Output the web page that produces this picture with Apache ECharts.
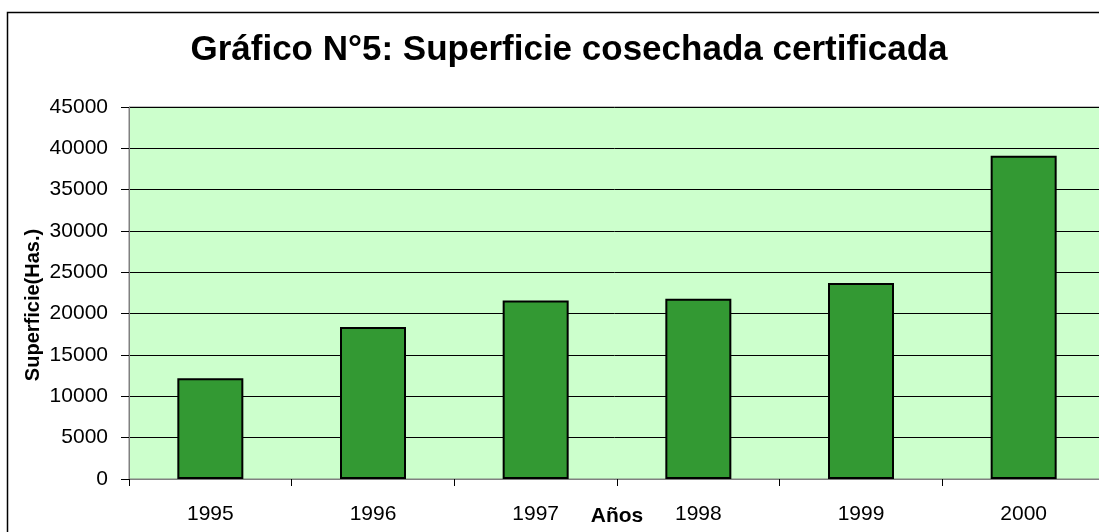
<!DOCTYPE html>
<html>
<head>
<meta charset="utf-8">
<script src="https://cdn.jsdelivr.net/npm/echarts@6/dist/echarts.min.js"></script>
<style>
  html, body { margin: 0; padding: 0; background: #fff; }
  #chart { width: 1099px; height: 532px; }
</style>
</head>
<body>
<div id="chart"></div>
<script>
const years = ['1995', '1996', '1997', '1998', '1999', '2000']
const superficie = [12200, 18400, 21600, 21800, 23700, 39100]

const font = 'Arial, "Liberation Sans", sans-serif'

const myChart = echarts.init(document.getElementById('chart'))

const option = {
  backgroundColor: '#fff',
  animation: false,
  textStyle: { fontFamily: font },
  title: {
    text: 'Gráfico N°5: Superficie cosechada certificada',
    left: 564,
    textAlign: 'center',
    top: 28,
    textStyle: { fontSize: 35, fontWeight: 'bold', color: '#000', fontFamily: font }
  },
  graphic: [
    {
      type: 'rect',
      shape: { x: 7.5, y: 12.5, width: 1200, height: 600 },
      style: { fill: 'none', stroke: '#000', lineWidth: 1.5 },
      silent: true
    }
  ],
  grid: {
    left: 129,
    top: 107,
    width: 976,
    height: 372,
    outerBoundsMode: 'none',
    containLabel: false,
    show: true,
    backgroundColor: '#CCFFCC',
    borderColor: '#808080',
    borderWidth: 1
  },
  xAxis: {
    type: 'category',
    data: years,
    name: 'Años',
    nameLocation: 'middle',
    nameGap: 27,
    nameMoveOverlap: false,
    nameTextStyle: { fontSize: 21, fontWeight: 'bold', color: '#000', fontFamily: font },
    axisLine: { lineStyle: { color: '#808080', width: 1 } },
    axisTick: { show: true, length: 7, lineStyle: { color: '#000' } },
    axisLabel: { fontSize: 21, color: '#000', margin: 25, fontFamily: font },
    splitLine: { show: false }
  },
  yAxis: {
    type: 'value',
    min: 0,
    max: 45000,
    interval: 5000,
    name: 'Superficie(Has.)',
    nameLocation: 'middle',
    nameGap: 86,
    nameMoveOverlap: false,
    nameTextStyle: { fontSize: 20, fontWeight: 'bold', color: '#000', fontFamily: font, padding: [0, 24, 0, 0] },
    axisLine: { show: true, lineStyle: { color: '#808080', width: 1 } },
    axisTick: { show: true, length: 8, lineStyle: { color: '#000' } },
    axisLabel: {
      fontSize: 21,
      color: '#000',
      margin: 21,
      fontFamily: font,
      formatter: v => String(v)
    },
    splitLine: { show: true, lineStyle: { color: '#000', width: 1 } }
  },
  series: [
    {
      type: 'bar',
      data: superficie,
      barWidth: 66,
      itemStyle: { color: '#339933', borderColor: '#000', borderWidth: 2 }
    }
  ]
}

myChart.setOption(option)

window.addEventListener('resize', () => {
  myChart.resize()
})
</script>
</body>
</html>
